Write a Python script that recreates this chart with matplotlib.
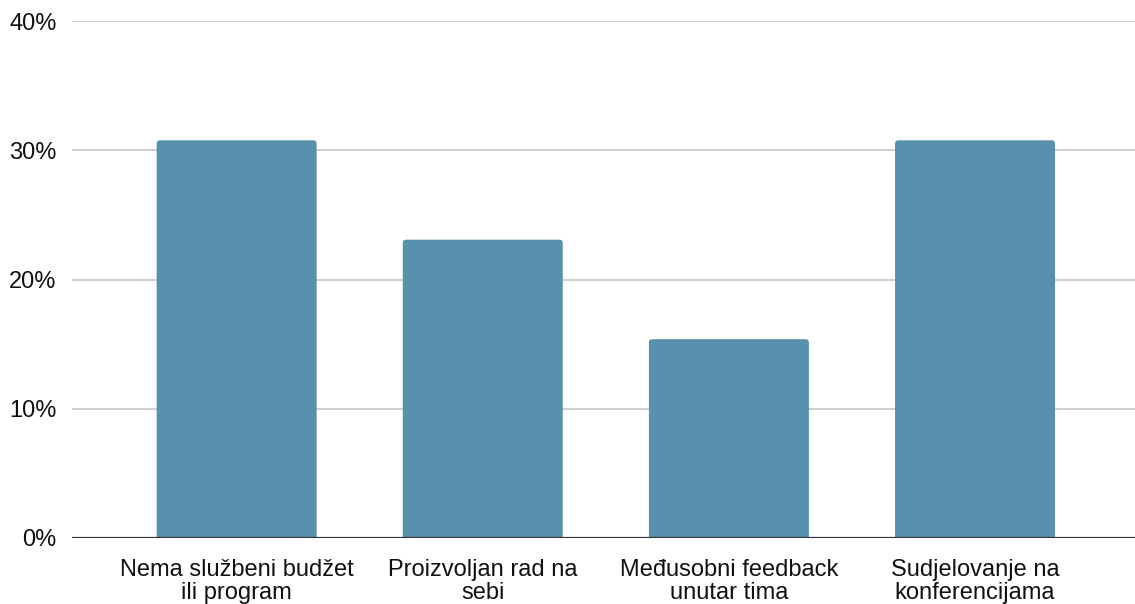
import matplotlib
matplotlib.use("Agg")
import matplotlib.pyplot as plt
from matplotlib.patches import FancyBboxPatch
from matplotlib.ticker import FuncFormatter

categories = [
    "Nema službeni budžet\nili program",
    "Proizvoljan rad na\nsebi",
    "Međusobni feedback\nunutar tima",
    "Sudjelovanje na\nkonferencijama",
]
values = [30.77, 23.08, 15.38, 30.77]
y_ticks = [0, 10, 20, 30, 40]

plt.rcParams["font.family"] = ["Liberation Sans", "DejaVu Sans"]

fig = plt.figure(figsize=(11.35, 6.04), dpi=100)
ax = fig.add_axes([72 / 1135, 66 / 604, 1 - 72 / 1135, (538 - 21) / 604])

ax.set_xlim(-0.669, 3.650)
ax.set_ylim(0, 40)

x = list(range(len(categories)))
bars = ax.bar(x, values, width=0.65, color="#5891AD", zorder=3)

# swap the plain rectangles for ones with softly rounded top corners
fig.canvas.draw()
to_px = ax.transData
px_x = to_px.transform((1, 0))[0] - to_px.transform((0, 0))[0]
px_y = to_px.transform((0, 1))[1] - to_px.transform((0, 0))[1]
r = 3.5 / px_x
aspect = px_x / px_y
for rect in bars:
    bx, by = rect.get_x(), rect.get_y()
    bw, bh = rect.get_width(), rect.get_height()
    extra = r * aspect
    patch = FancyBboxPatch(
        (bx, by - extra), bw, bh + extra,
        boxstyle=f"round,pad=0,rounding_size={r}",
        mutation_aspect=aspect,
        facecolor="#5891AD", edgecolor="none", zorder=3,
    )
    ax.add_patch(patch)
    rect.set_visible(False)

ax.set_yticks(y_ticks)
ax.yaxis.set_major_formatter(FuncFormatter(lambda v, _: f"{v:.0f}%"))
ax.set_xticks(x)
ax.set_xticklabels(categories, linespacing=1.06)

ax.grid(axis="y", color="#cccccc", linewidth=1.3, zorder=0)
ax.axhline(0, color="#333333", linewidth=1.6, zorder=4)
for s in ax.spines.values():
    s.set_visible(False)
ax.tick_params(axis="both", length=0, labelsize=17, colors="#111111")
ax.tick_params(axis="y", pad=11)
ax.tick_params(axis="x", pad=15)

fig.savefig("out.png", dpi=100)
